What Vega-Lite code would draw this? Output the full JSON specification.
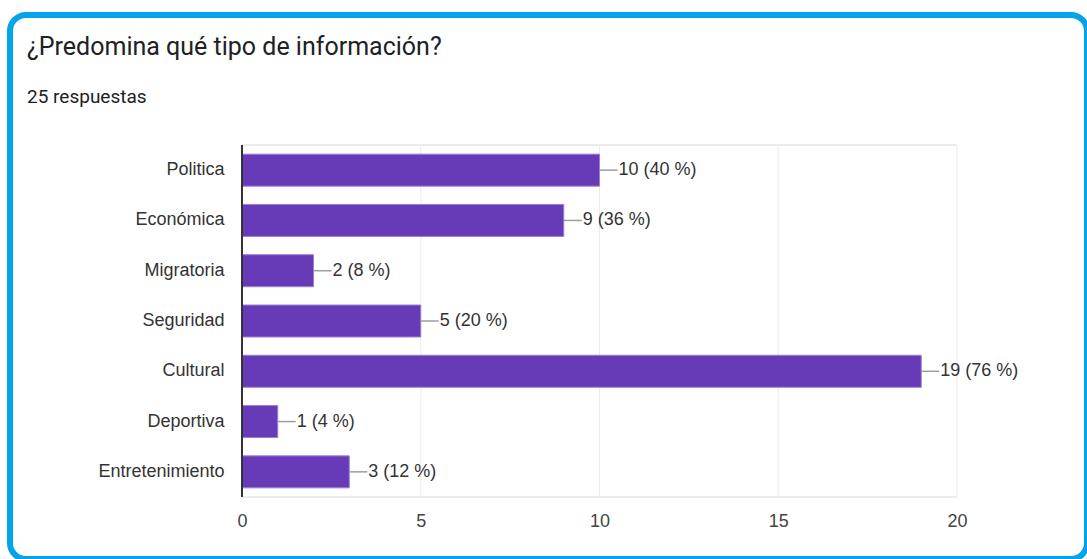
{
  "$schema": "https://vega.github.io/schema/vega-lite/v6.json",
  "autosize": {"type": "none"},
  "width": 1077,
  "height": 544,
  "padding": {"left": 10, "top": 15, "right": 0, "bottom": 0},
  "background": "white",
  "config": {
    "view": {"stroke": "#03a4e9", "strokeWidth": 6, "cornerRadius": 16, "fill": "white"}
  },
  "title": {
    "text": "¿Predomina qué tipo de información?",
    "subtitle": "25 respuestas",
    "anchor": "start",
    "frame": "group",
    "offset": -92,
    "dx": 17,
    "font": "Roboto",
    "fontSize": 25,
    "fontWeight": "normal",
    "color": "#202124",
    "subtitleFont": "Roboto",
    "subtitleFontSize": 19,
    "subtitleColor": "#202124",
    "subtitlePadding": 28
  },
  "data": {
    "values": [
      {"tipo": "Politica", "n": 10, "etiqueta": "10 (40 %)"},
      {"tipo": "Económica", "n": 9, "etiqueta": "9 (36 %)"},
      {"tipo": "Migratoria", "n": 2, "etiqueta": "2 (8 %)"},
      {"tipo": "Seguridad", "n": 5, "etiqueta": "5 (20 %)"},
      {"tipo": "Cultural", "n": 19, "etiqueta": "19 (76 %)"},
      {"tipo": "Deportiva", "n": 1, "etiqueta": "1 (4 %)"},
      {"tipo": "Entretenimiento", "n": 3, "etiqueta": "3 (12 %)"}
    ]
  },
  "layer": [
    {
      "data": {"values": [{"v": 5}, {"v": 10}, {"v": 15}, {"v": 20}]},
      "mark": {"type": "rule", "color": "#ebebeb", "strokeWidth": 1, "yOffset": -25, "y2Offset": 25},
      "encoding": {
        "x": {"field": "v", "type": "quantitative"},
        "y": {"datum": "Politica", "type": "nominal"},
        "y2": {"datum": "Entretenimiento"}
      }
    },
    {
      "mark": {"type": "rule", "color": "#ebebeb", "strokeWidth": 1, "yOffset": -25},
      "encoding": {
        "x": {"datum": 0, "type": "quantitative"},
        "x2": {"datum": 20},
        "y": {"datum": "Politica", "type": "nominal"}
      }
    },
    {
      "mark": {"type": "rule", "color": "#ebebeb", "strokeWidth": 1, "yOffset": 25},
      "encoding": {
        "x": {"datum": 0, "type": "quantitative"},
        "x2": {"datum": 20},
        "y": {"datum": "Entretenimiento", "type": "nominal"}
      }
    },
    {
      "mark": {"type": "bar", "color": "#673ab7", "stroke": "#9a7fd3", "strokeWidth": 1},
      "encoding": {
        "y": {
          "field": "tipo",
          "type": "nominal",
          "scale": {
            "domain": ["Politica", "Económica", "Migratoria", "Seguridad", "Cultural", "Deportiva", "Entretenimiento"],
            "range": [130, 482],
            "paddingInner": 0.364,
            "paddingOuter": 0.182
          },
          "axis": {
            "title": null,
            "orient": "left",
            "offset": -232,
            "domain": false,
            "ticks": false,
            "tickSize": 0,
            "grid": false,
            "labelPadding": 18,
            "labelFont": "Liberation Sans",
            "labelFontSize": 18,
            "labelColor": "#333333"
          }
        },
        "x": {
          "field": "n",
          "type": "quantitative",
          "scale": {"domain": [-6.4895, 23.636], "nice": false, "zero": false},
          "axis": {
            "title": null,
            "orient": "bottom",
            "offset": -52,
            "values": [0, 5, 10, 15, 20],
            "domain": false,
            "ticks": false,
            "tickSize": 0,
            "grid": false,
            "labelPadding": 5,
            "labelFont": "Liberation Sans",
            "labelFontSize": 18,
            "labelColor": "#444444"
          }
        }
      }
    },
    {
      "mark": {"type": "rule", "color": "#333333", "strokeWidth": 1, "yOffset": -25, "y2Offset": 25},
      "encoding": {
        "x": {"datum": 0, "type": "quantitative"},
        "y": {"datum": "Politica", "type": "nominal"},
        "y2": {"datum": "Entretenimiento"}
      }
    },
    {
      "mark": {"type": "rule", "color": "#9e9e9e", "strokeWidth": 1.5, "x2Offset": 18},
      "encoding": {
        "x": {"field": "n", "type": "quantitative"},
        "x2": {"field": "n"},
        "y": {"field": "tipo", "type": "nominal"}
      }
    },
    {
      "mark": {"type": "text", "align": "left", "baseline": "middle", "dx": 19, "font": "Liberation Sans", "fontSize": 18, "color": "#333333"},
      "encoding": {
        "x": {"field": "n", "type": "quantitative"},
        "y": {"field": "tipo", "type": "nominal"},
        "text": {"field": "etiqueta"}
      }
    }
  ]
}
